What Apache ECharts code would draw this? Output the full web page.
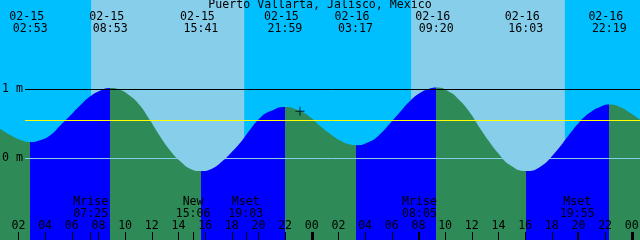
<!DOCTYPE html>
<html><head><meta charset="utf-8">
<script src="https://cdn.jsdelivr.net/npm/echarts@6/dist/echarts.min.js"></script>
<style>html,body{margin:0;padding:0;background:#fff}#c{width:640px;height:240px}</style>
</head><body><div id="c"></div>
<script>
// ---------- data ----------
const chartTitle = 'Puerto Vallarta, Jalisco, Mexico';
const viewStart = '15 00:37';
const viewEnd = '17 00:37';
const tideTimes = [
  '15 00:37','15 01:22','15 02:07','15 02:53','15 03:37','15 04:22','15 05:07','15 05:52','15 06:37','15 07:22',
  '15 08:07','15 08:53','15 09:37','15 10:22','15 11:07','15 11:52','15 12:37','15 13:27','15 14:07','15 14:52',
  '15 15:41','15 16:31','15 17:16','15 18:00','15 18:37','15 19:22','15 20:07','15 20:52','15 21:59','15 23:07',
  '15 23:52','16 00:37','16 01:22','16 02:07','16 02:52','16 03:17','16 04:22','16 05:07','16 05:52','16 06:37',
  '16 07:22','16 08:07','16 08:52','16 09:20','16 10:22','16 11:07','16 11:52','16 12:37','16 13:22','16 13:54',
  '16 14:52','16 16:03','16 17:07','16 18:15','16 19:22','16 20:07','16 20:52','16 21:37','16 22:19','16 23:07',
  '16 23:52','17 00:37'
];
const tideHeights = [
  0.43, 0.34, 0.27, 0.236, 0.262, 0.33, 0.47, 0.615, 0.765, 0.895,
  0.98, 1.02, 0.995, 0.905, 0.765, 0.55, 0.32, 0.095, -0.04, -0.15,
  -0.185, -0.15, -0.048, 0.09, 0.22, 0.415, 0.585, 0.68, 0.745, 0.685,
  0.60, 0.47, 0.354, 0.257, 0.199, 0.19, 0.245, 0.35, 0.505, 0.67,
  0.83, 0.945, 1.01, 1.025, 0.958, 0.833, 0.66, 0.436, 0.226, 0.093,
  -0.098, -0.185, -0.125, 0.085, 0.36, 0.535, 0.665, 0.745, 0.78, 0.745,
  0.66, 0.56
];
const extremaTimes = ['15 02:53','15 08:53','15 15:41','15 21:59','16 03:17','16 09:20','16 16:03','16 22:19'];
const extremaKinds = ['low','high','low','high','low','high','low','high'];
const moonTimes = ['15 07:25','15 15:06','15 19:03','16 08:05','16 19:55'];
const moonNames = ['Mrise','New','Mset','Mrise','Mset'];
const sunRises = ['15 07:27','16 07:27'];
const sunSets = ['15 18:56','16 18:59'];
const hourTickValues = [2,4,6,8,10,12,14,16,18,20,22,24,26,28,30,32,34,36,38,40,42,44,46,48];
const midnightTickValues = [24,48];
const depthLines = [1, 0];          // labelled metre lines
const meanLevel = 0.55;             // yellow line
const nowTime = '15 23:07';
const nowHeight = 0.68;

// ---------- helpers ----------
function hrs(s){ const p = s.split(' '); const hm = p[1].split(':'); return (Number(p[0]) - 15) * 24 + Number(hm[0]) + Number(hm[1]) / 60; }
const xMin = hrs(viewStart), xMax = hrs(viewEnd);
const yMin = -1.184, yMax = 2.294;
const lineStartX = xMin + 25 / 640 * (xMax - xMin);
const FONT = 'DejaVu Sans Mono';
const FS = 11.6;
const C = { day:'#87CEEB', night:'#00BFFF', flood:'#0000FF', ebb:'#2E8B57' };

const tideData = tideTimes.map((t, i) => [hrs(t), tideHeights[i]]);
const extremaLabel = {};
extremaTimes.forEach(t => { const p = t.split(' '); extremaLabel[hrs(t).toFixed(4)] = '02-' + p[0] + ' \n' + p[1]; });
const moonLabel = {};
moonTimes.forEach((t, i) => { moonLabel[hrs(t).toFixed(4)] = moonNames[i] + '\n' + t.split(' ')[1]; });

const bounds = extremaTimes.map(hrs);
const pieces = [];
pieces.push({ lt: bounds[0], color: extremaKinds[0] === 'low' ? C.ebb : C.flood });
for (let i = 0; i < bounds.length; i++) {
  const col = extremaKinds[i] === 'low' ? C.flood : C.ebb;
  if (i < bounds.length - 1) pieces.push({ gte: bounds[i], lt: bounds[i + 1], color: col });
  else pieces.push({ gte: bounds[i], color: col });
}

const baseX = { type:'value', min:xMin, max:xMax, gridIndex:0, z:20, axisLine:{show:false, onZero:false}, splitLine:{show:false} };
const chart = echarts.init(document.getElementById('c'), null, { renderer:'canvas' });
chart.setOption({
  animation:false,
  backgroundColor:'#fff',
  textStyle:{ fontFamily:FONT },
  title:{ text:chartTitle, left:'center', top:-1, padding:0, z:20,
    textStyle:{ fontFamily:FONT, fontSize:FS, fontWeight:'normal', color:'#000', lineHeight:12 } },
  grid:{ left:0, right:0, top:0, bottom:0, containLabel:false, outerBoundsMode:'none',
    show:true, backgroundColor:C.night, borderWidth:0 },
  xAxis:[
    Object.assign({}, baseX, { position:'bottom',
      axisTick:{ show:true, inside:true, length:8, customValues:hourTickValues, lineStyle:{ color:'#000', width:1 } },
      axisLabel:{ show:true, inside:true, margin:8, customValues:hourTickValues, color:'#000', fontFamily:FONT, fontSize:FS,
        formatter:v => String(((v % 24) + 24) % 24).padStart(2, '0') } }),
    Object.assign({}, baseX, { position:'bottom',
      axisTick:{ show:true, inside:true, length:8, customValues:midnightTickValues, lineStyle:{ color:'#000', width:3 } },
      axisLabel:{ show:false } }),
    Object.assign({}, baseX, { position:'bottom',
      axisTick:{ show:true, inside:true, length:8, customValues:moonTimes.map(hrs), lineStyle:{ color:'#000', width:1 } },
      axisLabel:{ show:true, inside:true, margin:20, customValues:moonTimes.map(hrs), color:'#000', fontFamily:FONT, fontSize:FS, lineHeight:12,
        formatter:v => moonLabel[v.toFixed(4)] || '' } }),
    Object.assign({}, baseX, { position:'top',
      axisTick:{ show:false },
      axisLabel:{ show:true, inside:true, margin:11, customValues:bounds, color:'#000', fontFamily:FONT, fontSize:FS, lineHeight:12,
        formatter:v => extremaLabel[v.toFixed(4)] || '' } })
  ],
  yAxis:{ type:'value', min:yMin, max:yMax, z:20, axisLine:{show:false, onZero:false}, axisTick:{show:false}, splitLine:{show:false},
    axisLabel:{ show:true, inside:true, margin:2, customValues:depthLines, color:'#000', fontFamily:FONT, fontSize:FS,
      formatter:v => v + ' m' } },
  visualMap:{ type:'piecewise', show:false, dimension:0, seriesIndex:1, pieces:pieces },
  series:[
    { type:'custom', z:1, silent:true, xAxisIndex:0, yAxisIndex:0,
      data: sunRises.map((s, i) => [hrs(s), hrs(sunSets[i])]),
      encode:{ x:[0,1] },
      renderItem:(params, api) => {
        const a = api.coord([api.value(0), yMax]);
        const b = api.coord([api.value(1), yMin]);
        return { type:'rect', shape:{ x:a[0], y:a[1], width:b[0]-a[0], height:b[1]-a[1] }, style:{ fill:C.day } };
      } },
    { type:'line', z:2, silent:true, xAxisIndex:0, yAxisIndex:0, data:tideData, smooth:0.5, symbol:'none',
      lineStyle:{ width:0 }, areaStyle:{ opacity:1, origin:'start' },
      markLine:{ silent:true, symbol:'none', animation:false, label:{show:false},
        data:[
          [{ coord:[lineStartX, depthLines[0]], lineStyle:{ color:'#000', width:1, type:'solid' } }, { coord:[xMax, depthLines[0]] }],
          [{ coord:[lineStartX, meanLevel], lineStyle:{ color:'#FFFF00', width:1, type:'solid' } }, { coord:[xMax, meanLevel] }],
          [{ coord:[lineStartX, depthLines[1]], lineStyle:{ color:'#87CEEB', width:1, type:'solid' } }, { coord:[xMax, depthLines[1]] }]
        ] } },
    { type:'scatter', z:5, silent:true, xAxisIndex:0, yAxisIndex:0, data:[[hrs(nowTime), nowHeight]],
      symbol:'path://M0,4H4V0H5V4H9V5H5V9H4V5H0Z', symbolSize:[9,9], itemStyle:{ color:'#000' } }
  ]
});
</script></body></html>
